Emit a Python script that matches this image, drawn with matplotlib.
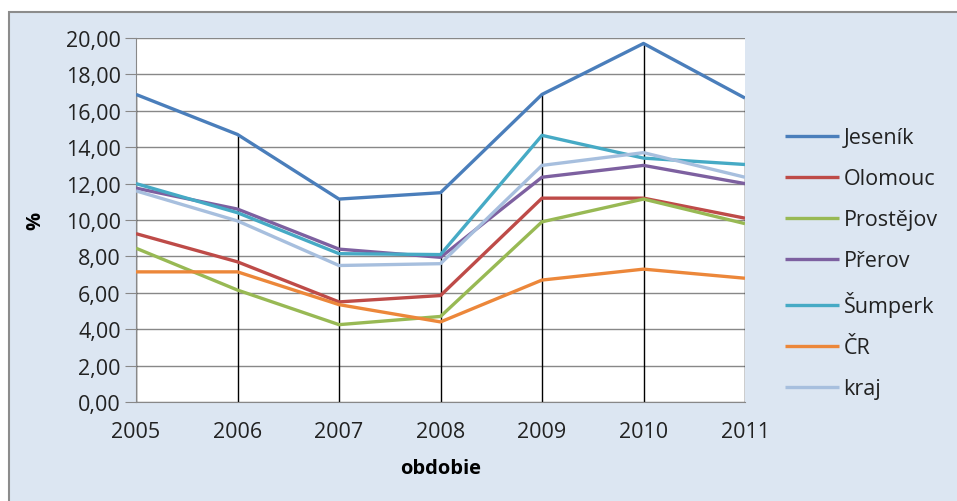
import numpy as np
import matplotlib
matplotlib.use("Agg")
import matplotlib.pyplot as plt
from matplotlib.patches import Rectangle

years = ["2005", "2006", "2007", "2008", "2009", "2010", "2011"]
jesenik   = [16.90, 14.70, 11.15, 11.50, 16.90, 19.70, 16.70]
olomouc   = [9.25, 7.70, 5.50, 5.85, 11.20, 11.20, 10.10]
prostejov = [8.45, 6.15, 4.25, 4.70, 9.90, 11.15, 9.80]
prerov    = [11.75, 10.60, 8.40, 7.95, 12.35, 13.00, 12.00]
sumperk   = [12.00, 10.40, 8.15, 8.10, 14.65, 13.40, 13.05]
cr        = [7.15, 7.15, 5.35, 4.40, 6.70, 7.30, 6.80]
kraj      = [11.60, 9.95, 7.50, 7.60, 13.00, 13.70, 12.35]

series = [("Jeseník", jesenik, "#4A7EBB"),
          ("Olomouc", olomouc, "#BE4B48"),
          ("Prostějov", prostejov, "#98B954"),
          ("Přerov", prerov, "#7D60A0"),
          ("Šumperk", sumperk, "#46AAC5"),
          ("ČR", cr, "#EC873A"),
          ("kraj", kraj, "#A7BFDE")]

plt.rcParams["font.family"] = ["Open Sans", "DejaVu Sans"]
FS = 15.5
W, H = 957, 502
fig = plt.figure(figsize=(W / 100, H / 100), dpi=100)
fig.patch.set_facecolor("white")
fig.patches.append(Rectangle((9 / W, -0.05), 1.0, 1 - 13 / H + 0.05, transform=fig.transFigure,
                             facecolor="#DCE6F2", edgecolor="#8C8C8C", lw=1.5, zorder=-10))

ax = fig.add_axes([136 / W, 1 - 403 / H, (745 - 136) / W, (403 - 39) / H])
ax.set_facecolor("white")
x = np.arange(len(years))

ax.set_ylim(0, 20)
ax.set_xlim(0, len(years) - 1)
ax.set_yticks(np.arange(0, 21, 2))
ax.set_yticklabels([f"{v:.2f}".replace(".", ",") for v in np.arange(0, 21, 2)], fontsize=FS, color="#222222")
ax.set_xticks(x)
ax.set_xticklabels(years, fontsize=FS, color="#222222")
ax.tick_params(axis="y", length=8, color="#888888", pad=3)
ax.tick_params(axis="x", length=0, pad=14)
ax.grid(axis="y", color="#888888", lw=1)
ax.set_axisbelow(True)
for s in ("top", "right"):
    ax.spines[s].set_visible(False)
ax.spines["left"].set_color("#888888")
ax.spines["bottom"].set_color("#888888")

# drop lines
tops = np.max([s[1] for s in series], axis=0)
ax.vlines(x, 0, tops, color="black", lw=1, zorder=1.5)

for name, vals, col in series:
    ax.plot(x, vals, color=col, lw=2.4, label=name, zorder=3, solid_capstyle="butt")

ax.set_ylabel("%", fontsize=FS - 1, fontweight="bold", labelpad=15)
ax.set_xlabel("obdobie", fontsize=FS - 1, fontweight="bold", labelpad=11)

leg = ax.legend(loc="upper left", bbox_to_anchor=(766 / W, 1 - 109 / H), bbox_transform=fig.transFigure,
                frameon=False, fontsize=FS, handlelength=2.5, handletextpad=0.2, labelspacing=0.93)
for t in leg.get_texts():
    t.set_color("#222222")

fig.savefig("out.png", dpi=100)
